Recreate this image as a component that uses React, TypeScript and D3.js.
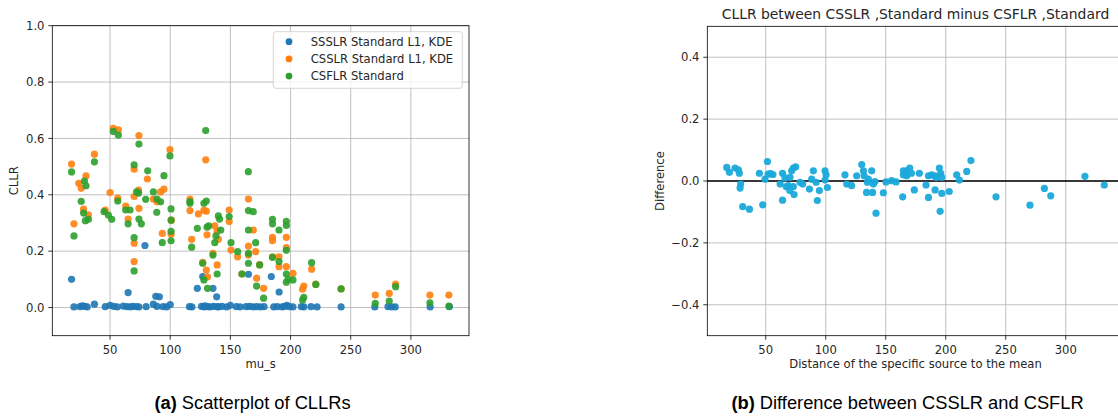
import React from "react";
import * as d3 from "d3";

// ---------- DATA ----------
const ssslr: [number, number][] = [
  [18, 0.1], [20, 0.002], [25, 0.003], [27, 0.006], [29, 0.004], [31, 0.002], [37, 0.012], [46, 0.003],
  [50, 0.008], [53, 0.004], [56, 0.002], [61, 0.005], [64, 0.003], [65, 0.053], [67, 0.002], [69, 0.004],
  [72, 0.003], [74, 0.002], [79, 0.22], [80, 0.003], [86, 0.012], [88, 0.04], [89, 0.004], [91, 0.038],
  [94, 0.003], [97, 0.002], [100, 0.01], [116, 0.003], [118, 0.002], [122.5, 0.068], [126, 0.004],
  [127, 0.11], [128, 0.002], [129, 0.006], [131, 0.003], [133, 0.002], [135.5, 0.068], [136, 0.004],
  [138.6, 0.038], [139, 0.003], [140, 0.002], [143, 0.004], [147, 0.002], [150, 0.008], [155, 0.003],
  [158, 0.002], [163, 0.003], [165, 0.118], [166, 0.004], [169, 0.002], [172, 0.003], [175, 0.002],
  [178, 0.003], [184, 0.11], [186, 0.002], [189, 0.003], [190.5, 0.055], [193, 0.002], [195, 0.004],
  [197, 0.008], [199, 0.003], [202, 0.002], [209, 0.003], [211, 0.002], [217, 0.003], [222, 0.002],
  [242, 0.002], [270, 0.002], [281, 0.003], [284, 0.002], [287, 0.002], [316, 0.002], [332, 0.003],
];

const csslr: [number, number][] = [
  [18, 0.509], [20, 0.297], [24, 0.441], [26, 0.423], [28, 0.349], [30, 0.467], [32, 0.329], [37, 0.544],
  [46, 0.346], [50, 0.408], [52.7, 0.636], [56.9, 0.63], [56.4, 0.388], [63, 0.36], [65, 0.314],
  [70, 0.491], [70, 0.228], [70, 0.163], [70, 0.394], [73.7, 0.417], [74, 0.61], [74, 0.352], [81, 0.456],
  [86, 0.385], [89, 0.375], [92, 0.41], [93.4, 0.263], [94.8, 0.42], [99.8, 0.56], [100.7, 0.26],
  [101, 0.31], [116.4, 0.385], [116.4, 0.344], [117.8, 0.242], [123.4, 0.332], [127, 0.16], [128, 0.345],
  [129.5, 0.524], [130, 0.342], [130, 0.133], [130.6, 0.258], [131, 0.109], [137, 0.29], [139, 0.27],
  [140, 0.242], [135.5, 0.192], [139, 0.151], [149, 0.346], [149, 0.305], [150.5, 0.204], [156, 0.18],
  [159.6, 0.119], [165, 0.385], [165, 0.218], [165, 0.186], [169, 0.275], [171, 0.198], [171.8, 0.104],
  [174.3, 0.152], [177.6, 0.068], [185, 0.249], [185, 0.237], [185, 0.18], [190.4, 0.18], [190.4, 0.145],
  [196.5, 0.249], [196.5, 0.213], [196.5, 0.145], [202, 0.121], [210, 0.065], [211, 0.076],
  [217.5, 0.136], [221, 0.083], [242, 0.066], [270.4, 0.044], [282, 0.05], [287.3, 0.083],
  [315.8, 0.044], [331.6, 0.044],
];

const csflr: [number, number][] = [
  [18, 0.481], [20, 0.254], [26, 0.377], [28.7, 0.449], [30, 0.432], [28, 0.335], [29.5, 0.308],
  [32, 0.313], [37, 0.517], [45, 0.34], [48.6, 0.328], [51.4, 0.313], [52.7, 0.625], [56.9, 0.612],
  [56.4, 0.378], [63, 0.346], [66.6, 0.346], [65, 0.297], [70, 0.506], [70, 0.248], [70, 0.13],
  [72, 0.41], [73.7, 0.406], [74, 0.58], [74, 0.314], [76, 0.297], [79.6, 0.384], [81.3, 0.485],
  [86, 0.41], [89, 0.385], [92, 0.375], [88.8, 0.338], [94.8, 0.468], [93.4, 0.23], [99.8, 0.538],
  [100.7, 0.35], [100.7, 0.31], [100.7, 0.27], [100.7, 0.237], [116.4, 0.376], [116.4, 0.37],
  [117.8, 0.214], [122.5, 0.281], [127, 0.157], [128, 0.37], [129.5, 0.628], [130, 0.378], [130.6, 0.285],
  [132, 0.29], [128, 0.098], [131, 0.068], [137, 0.23], [140, 0.325], [141, 0.314], [142, 0.275],
  [138, 0.254], [135.5, 0.186], [139, 0.119], [149, 0.323], [150.5, 0.23], [156, 0.198], [159.6, 0.119],
  [164.9, 0.482], [165, 0.344], [169, 0.34], [165, 0.275], [165, 0.192], [165, 0.157], [171, 0.23],
  [171.8, 0.076], [174.3, 0.151], [177.6, 0.033], [185, 0.313], [185, 0.297], [185, 0.178],
  [190.4, 0.275], [190.4, 0.163], [196.5, 0.306], [196.5, 0.291], [196.5, 0.203], [196.5, 0.119],
  [196.5, 0.09], [198, 0.1], [202, 0.098], [210, 0.027], [211, 0.036], [217.5, 0.159], [221, 0.082],
  [242, 0.066], [270.4, 0.015], [282, 0.023], [287.3, 0.074], [315.8, 0.017], [331.6, 0.005],
];

const diffPoints: [number, number][] = [
  [17.5, 0.044], [19.7, 0.028], [24.4, 0.042], [27.2, 0.036], [28, 0.025], [29.1, -0.01], [28.6, -0.023],
  [30.8, -0.083], [36.4, -0.091], [47.5, -0.077], [44.7, 0.025], [51.4, 0.063], [49.4, 0.006],
  [52, 0.022], [54, 0.024], [56, 0.021], [62, -0.01], [64, 0.025], [66, 0.01], [68.8, -0.015],
  [70.2, 0.012], [71.6, 0.033], [73, 0.042], [75, 0.046], [64, -0.062], [67, -0.018], [73, -0.018],
  [70, -0.031], [73.6, -0.044], [78.6, -0.004], [80.8, -0.01], [86.4, -0.026], [89.7, 0.033],
  [88.3, 0.006], [92, -0.004], [94.7, -0.031], [93, -0.063], [99.4, 0.033], [100.3, 0.02], [99.4, 0.003],
  [101.4, -0.021], [116, 0.02], [117.5, -0.01], [121.6, -0.015], [125.8, 0.017], [130, 0.053],
  [131.4, 0.033], [134, -0.037], [135.5, 0.006], [132, 0.017], [138.3, 0.033], [134.7, -0.004],
  [139.7, -0.01], [141, -0.002], [139, -0.037], [141.9, -0.104], [148, -0.038], [150.2, -0.003],
  [154.9, 0.001], [158.6, -0.003], [164.1, -0.051], [164.7, 0.033], [164.7, 0.02], [167.5, 0.033],
  [167.5, 0.017], [170, 0.042], [171.4, 0.025], [178, 0.025], [173.8, -0.029], [183.6, -0.013],
  [185.6, 0.017], [188.3, 0.02], [191.1, 0.017], [191.9, 0.012], [185.6, -0.053], [191.1, -0.029],
  [194.7, 0.042], [195.8, 0.025], [196.7, 0.012], [196.7, -0.04], [195.3, -0.098], [202.9, -0.034],
  [209.1, 0.02], [211.4, 0.003], [217.5, 0.031], [221, 0.066], [241.9, -0.051], [270.2, -0.078],
  [282.2, -0.024], [287.5, -0.048], [316, 0.015], [332.1, -0.013],
];

const xTicks = [50, 100, 150, 200, 250, 300];
const leftYTicks = [0, 0.2, 0.4, 0.6, 0.8, 1.0];
const rightYTicks = [-0.4, -0.2, 0, 0.2, 0.4];
const legendLabels = ["SSSLR Standard L1, KDE", "CSSLR Standard L1, KDE", "CSFLR Standard"];
const seriesColors = ["#1f77b4", "#ff7f0e", "#2ca02c"];
const diffColor = "#1aa9da";

const FONT = "DejaVu Sans, sans-serif";
const CAP_FONT = "Liberation Sans, Arial, sans-serif";
const GRID = "#b0b0b0";
const R = 3.6;
const FS = 11.6;
const TICK = 4;

const fmtTick = (v: number) => {
  const s = v.toFixed(1);
  return v < 0 ? "\u2212" + s.slice(1) : s;
};

export default function App() {
  const lx = d3.scaleLinear().domain([2.0, 348.3]).range([52.3, 469]);
  const ly = d3.scaleLinear().domain([-0.1, 1.0]).range([335.7, 25.7]);
  const rx = d3.scaleLinear().domain([1.3, 348.3]).range([707.3, 1123.7]);
  const ry = d3.scaleLinear().domain([-0.5, 0.5]).range([335.7, 26.3]);

  const [lx0, lx1] = lx.range();
  const [ly0, ly1] = ly.range();
  const [rx0, rx1] = rx.range();
  const [ry0, ry1] = ry.range();

  const series = [ssslr, csslr, csflr];

  return (
    <svg
      width={1118}
      height={419}
      style={{ position: "absolute", left: 0, top: 0, background: "#fff" }}
      fontFamily={FONT}
    >
      <rect x={0} y={0} width={1118} height={419} fill="#fff" />

      {/* ---------- LEFT PANEL ---------- */}
      <g>
        {xTicks.map((t) => (
          <line key={"lgx" + t} x1={lx(t)} x2={lx(t)} y1={ly0} y2={ly1} stroke={GRID} strokeWidth={0.8} />
        ))}
        {leftYTicks.map((t) => (
          <line key={"lgy" + t} x1={lx0} x2={lx1} y1={ly(t)} y2={ly(t)} stroke={GRID} strokeWidth={0.8} />
        ))}
        {series.map((pts, si) => (
          <g key={"s" + si}>
            {pts.map(([x, y], i) => (
              <circle key={i} cx={lx(x)} cy={ly(y)} r={R} fill={seriesColors[si]} fillOpacity={0.9} />
            ))}
          </g>
        ))}
        <rect x={lx0} y={ly1} width={lx1 - lx0} height={ly0 - ly1} fill="none" stroke="#000" strokeWidth={0.8} />
        {xTicks.map((t) => (
          <g key={"ltx" + t}>
            <line x1={lx(t)} x2={lx(t)} y1={ly0} y2={ly0 + TICK} stroke="#000" strokeWidth={0.8} />
            <text x={lx(t)} y={353.5} textAnchor="middle" fontSize={FS} fill="#262626">{t}</text>
          </g>
        ))}
        {leftYTicks.map((t) => (
          <g key={"lty" + t}>
            <line x1={lx0 - TICK} x2={lx0} y1={ly(t)} y2={ly(t)} stroke="#000" strokeWidth={0.8} />
            <text x={lx0 - 7.8} y={ly(t) + 4.2} textAnchor="end" fontSize={FS} fill="#262626">{fmtTick(t)}</text>
          </g>
        ))}
        <text x={(lx0 + lx1) / 2} y={367.5} textAnchor="middle" fontSize={FS} fill="#262626">mu_s</text>
        <text
          transform={`translate(18, ${(ly0 + ly1) / 2}) rotate(-90)`}
          textAnchor="middle"
          fontSize={FS}
          fill="#262626"
        >
          CLLR
        </text>

        {/* legend */}
        <rect x={273.3} y={31.7} width={189} height={56.6} rx={2.5} fill="#fff" fillOpacity={0.8} stroke="#cccccc" strokeWidth={0.8} />
        {legendLabels.map((lab, i) => (
          <g key={"lg" + i}>
            <circle cx={289} cy={41.7 + i * 17.2} r={3.4} fill={seriesColors[i]} />
            <text x={310.7} y={41.7 + i * 17.2 + 4.2} fontSize={FS} fill="#262626">{lab}</text>
          </g>
        ))}
      </g>

      {/* ---------- RIGHT PANEL ---------- */}
      <g>
        {xTicks.map((t) => (
          <line key={"rgx" + t} x1={rx(t)} x2={rx(t)} y1={ry0} y2={ry1} stroke={GRID} strokeWidth={0.8} />
        ))}
        {rightYTicks.map((t) => (
          <line key={"rgy" + t} x1={rx0} x2={rx1} y1={ry(t)} y2={ry(t)} stroke={GRID} strokeWidth={0.8} />
        ))}
        <line x1={rx0} x2={rx1} y1={ry(0)} y2={ry(0)} stroke="#000" strokeWidth={1.5} />
        {diffPoints.map(([x, y], i) => (
          <circle key={"d" + i} cx={rx(x)} cy={ry(y)} r={R} fill={diffColor} fillOpacity={0.95} />
        ))}
        <rect x={rx0} y={ry1} width={rx1 - rx0} height={ry0 - ry1} fill="none" stroke="#000" strokeWidth={0.8} />
        {xTicks.map((t) => (
          <g key={"rtx" + t}>
            <line x1={rx(t)} x2={rx(t)} y1={ry0} y2={ry0 + TICK} stroke="#000" strokeWidth={0.8} />
            <text x={rx(t)} y={353.5} textAnchor="middle" fontSize={FS} fill="#262626">{t}</text>
          </g>
        ))}
        {rightYTicks.map((t) => (
          <g key={"rty" + t}>
            <line x1={rx0 - TICK} x2={rx0} y1={ry(t)} y2={ry(t)} stroke="#000" strokeWidth={0.8} />
            <text x={rx0 - 7.8} y={ry(t) + 4.2} textAnchor="end" fontSize={FS} fill="#262626">{fmtTick(t)}</text>
          </g>
        ))}
        <text x={(rx0 + rx1) / 2} y={368} textAnchor="middle" fontSize={FS} fill="#262626">
          Distance of the specific source to the mean
        </text>
        <text
          transform={`translate(664, ${(ry0 + ry1) / 2}) rotate(-90)`}
          textAnchor="middle"
          fontSize={FS}
          fill="#262626"
        >
          Difference
        </text>
        <text x={(rx0 + rx1) / 2} y={18.5} textAnchor="middle" fontSize={13.9} fill="#262626">
          CLLR between CSSLR ,Standard minus CSFLR ,Standard
        </text>
      </g>

      {/* ---------- CAPTIONS ---------- */}
      <text x={252.5} y={409} textAnchor="middle" fontFamily={CAP_FONT} fontSize={18.3} fill="#000">
        <tspan fontWeight="bold">(a)</tspan>
        <tspan> Scatterplot of CLLRs</tspan>
      </text>
      <text x={907.5} y={409} textAnchor="middle" fontFamily={CAP_FONT} fontSize={18.3} fill="#000">
        <tspan fontWeight="bold">(b)</tspan>
        <tspan> Difference between CSSLR and CSFLR</tspan>
      </text>
    </svg>
  );
}
